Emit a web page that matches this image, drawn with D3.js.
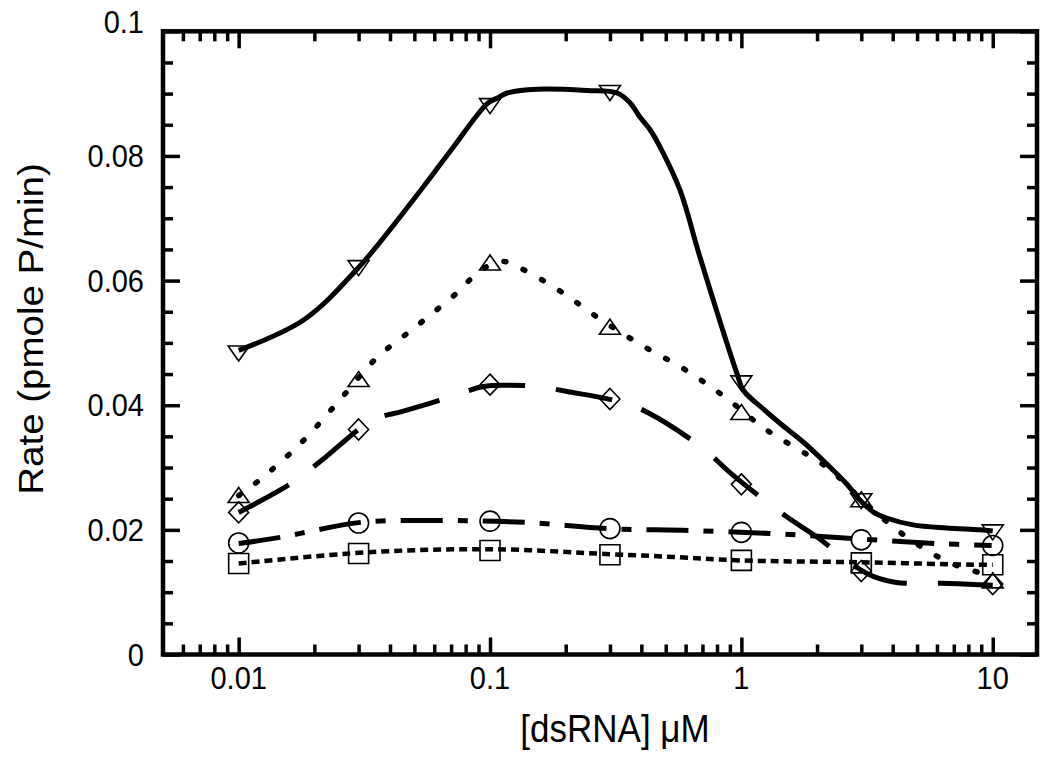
<!DOCTYPE html>
<html><head><meta charset="utf-8">
<script src="https://cdn.jsdelivr.net/npm/d3@7"></script>
<style>
body{margin:0;background:#fff}
text{font-family:"Liberation Sans",Arial,Helvetica,sans-serif;fill:#000}
</style>
</head><body>
<svg id="c" width="1050" height="765"></svg>
<script>
// ---------- data ----------
const concentrations = [0.01, 0.03, 0.1, 0.3, 1, 3, 10];
const rateDownTri = [0.0487, 0.0624, 0.0884, 0.0905, 0.0439, 0.0250, 0.0200];
const rateUpTri   = [0.0252, 0.0438, 0.0625, 0.0522, 0.0385, 0.0245, 0.0115];
const rateDiamond = [0.0228, 0.0361, 0.0433, 0.0410, 0.0273, 0.0134, 0.0113];
const rateCircle  = [0.0179, 0.0211, 0.0214, 0.0202, 0.0196, 0.0184, 0.0175];
const rateSquare  = [0.0146, 0.0162, 0.0167, 0.0160, 0.0151, 0.0147, 0.0144];

// fitted curves
const fitDownX = [0.01, 0.018, 0.03, 0.053, 0.0714, 0.0975, 0.107, 0.117, 0.154, 0.244, 0.3205, 0.361, 0.3955, 0.4334, 0.475, 0.570, 0.685, 0.96, 1.018, 1.222, 1.424, 1.762, 2.182, 2.62, 2.96, 3.343, 3.778, 4.819, 6.542, 8.872, 10];
const fitDownY = [0.0488, 0.0536, 0.0621, 0.0745, 0.0814, 0.0884, 0.0893, 0.0901, 0.0907, 0.0905, 0.0901, 0.0885, 0.0862, 0.0842, 0.0814, 0.0745, 0.0637, 0.0451, 0.0424, 0.0394, 0.0371, 0.0341, 0.0306, 0.0274, 0.0248, 0.0229, 0.0219, 0.0208, 0.0203, 0.0200, 0.0198];
const fitUpX = [0.01, 0.01246, 0.01796, 0.0252, 0.0350, 0.0514, 0.0742, 0.0890, 0.1099, 0.1319, 0.1902, 0.2744, 0.4027, 0.597, 0.8606, 1.252, 1.822, 2.249, 3.184, 4.677, 6.866, 9.72];
const fitUpY = [0.0255, 0.0284, 0.0342, 0.0408, 0.0474, 0.0528, 0.0581, 0.0612, 0.0631, 0.0620, 0.0583, 0.0538, 0.0496, 0.0457, 0.0413, 0.0361, 0.0321, 0.0297, 0.0239, 0.0185, 0.0146, 0.0127];
const fitDiamondX = [0.01, 0.01638, 0.02117, 0.03406, 0.04482, 0.06957, 0.094, 0.1204, 0.1542, 0.2028, 0.3323, 0.4255, 0.6976, 0.9178, 1.490, 1.961, 3.155, 4.076, 6.742, 10];
const fitDiamondY = [0.0228, 0.0276, 0.0310, 0.0376, 0.0390, 0.0413, 0.0430, 0.0432, 0.0430, 0.0422, 0.0405, 0.0388, 0.0332, 0.0289, 0.0223, 0.0191, 0.0130, 0.0116, 0.0114, 0.0111];
const fitCircleX = [0.01, 0.01468, 0.01846, 0.03052, 0.06644, 0.1381, 0.2951, 0.6249, 1.335, 2.776, 6.04, 9.9];
const fitCircleY = [0.0178, 0.0188, 0.0196, 0.0212, 0.0215, 0.0212, 0.0202, 0.0199, 0.0194, 0.0186, 0.0178, 0.0175];
const fitSquareX = [0.01, 0.03255, 0.1003, 0.3006, 0.570, 0.987, 2.96, 8.87, 10];
const fitSquareY = [0.0146, 0.0164, 0.0169, 0.0161, 0.0156, 0.0151, 0.0148, 0.0144, 0.0144];

// ticks
const xMajorTicks = [0.01, 0.1, 1, 10];
const xTickLabels = ["0.01", "0.1", "1", "10"];
const xMinorTicks = [0.006,0.007,0.008,0.009,0.02,0.03,0.04,0.05,0.06,0.07,0.08,0.09,0.2,0.3,0.4,0.5,0.6,0.7,0.8,0.9,2,3,4,5,6,7,8,9];
const yMajorTicks = [0, 0.02, 0.04, 0.06, 0.08, 0.1];
const yTickLabels = ["0", "0.02", "0.04", "0.06", "0.08", "0.1"];
const yMinorTicks = [0.005,0.01,0.015,0.025,0.03,0.035,0.045,0.05,0.055,0.065,0.07,0.075,0.085,0.09,0.095];
const xTitle = "[dsRNA] \u03bcM";
const yTitle = "Rate (pmole P/min)";

// ---------- layout ----------
const L = 163, R = 1037, T = 31.3, B = 654.5;
const svg = d3.select("#c");
svg.append("rect").attr("width",1050).attr("height",765).attr("fill","#fff");

const x = d3.scaleLog().domain([0.005, 15]).range([L, R]);
const y = d3.scaleLinear().domain([0, 0.1]).range([B, T]);

const MAJ = 17, MIN = 10, TW = 3.5;
function styleAxis(g){
  g.select(".domain").remove();
  g.selectAll(".tick line").attr("stroke","#000").attr("stroke-width",TW);
  g.selectAll(".tick text").remove();
}
// bottom & top
svg.append("g").attr("transform",`translate(0,${B})`)
  .call(d3.axisBottom(x).tickValues(xMajorTicks).tickSize(-MAJ).tickFormat("")).call(styleAxis);
svg.append("g").attr("transform",`translate(0,${B})`)
  .call(d3.axisBottom(x).tickValues(xMinorTicks).tickSize(-MIN).tickFormat("")).call(styleAxis);
svg.append("g").attr("transform",`translate(0,${T})`)
  .call(d3.axisTop(x).tickValues(xMajorTicks).tickSize(-MAJ).tickFormat("")).call(styleAxis);
svg.append("g").attr("transform",`translate(0,${T})`)
  .call(d3.axisTop(x).tickValues(xMinorTicks).tickSize(-MIN).tickFormat("")).call(styleAxis);
// left & right
svg.append("g").attr("transform",`translate(${L},0)`)
  .call(d3.axisLeft(y).tickValues(yMajorTicks).tickSize(-MAJ).tickFormat("")).call(styleAxis);
svg.append("g").attr("transform",`translate(${L},0)`)
  .call(d3.axisLeft(y).tickValues(yMinorTicks).tickSize(-MIN).tickFormat("")).call(styleAxis);
svg.append("g").attr("transform",`translate(${R},0)`)
  .call(d3.axisRight(y).tickValues(yMajorTicks).tickSize(-MAJ).tickFormat("")).call(styleAxis);
svg.append("g").attr("transform",`translate(${R},0)`)
  .call(d3.axisRight(y).tickValues(yMinorTicks).tickSize(-MIN).tickFormat("")).call(styleAxis);

// frame
svg.append("rect").attr("x",L).attr("y",T).attr("width",R-L).attr("height",B-T)
  .attr("fill","none").attr("stroke","#000").attr("stroke-width",4.5);

// tick labels
const FS = 29;
svg.append("g").selectAll("text").data(xMajorTicks).join("text")
  .attr("transform",(d)=>`translate(${x(d)},689) scale(1,1.06)`)
  .attr("text-anchor","middle").attr("font-size",FS)
  .text((d,i)=>xTickLabels[i]);
svg.append("g").selectAll("text").data(yMajorTicks).join("text")
  .attr("transform",(d,i)=>`translate(144,${y(d)+11-(i===yMajorTicks.length-1?9:0)}) scale(1,1.06)`)
  .attr("text-anchor","end").attr("font-size",FS)
  .text((d,i)=>yTickLabels[i]);

// axis titles
svg.append("text").attr("transform","translate(615,742) scale(1,1.1)")
  .attr("text-anchor","middle").attr("font-size",35).text(xTitle);
svg.append("text").attr("transform","translate(43,329) scale(1,1.1) rotate(-90)")
  .attr("text-anchor","middle").attr("font-size",35).text(yTitle);

// ---------- markers ----------
const plot = svg.append("g");
function pts(xs, ys){ return xs.map((v,i)=>[v, ys[i]]); }
const shapes = {
  down: "M-10.5,-5L10.5,-5L0,10Z",
  up: "M0,-10L10.5,5L-10.5,5Z",
  diamond: "M0,-10.5L10,0L0,10.5L-10,0Z",
  square: "M-10,-10H10V10H-10Z"
};
function markers(ys, kind){
  const g = plot.append("g");
  const data = pts(concentrations, ys);
  if (kind === "circle") {
    g.selectAll("circle").data(data).join("circle")
      .attr("cx",d=>x(d[0])).attr("cy",d=>y(d[1])).attr("r",10)
      .attr("fill","none").attr("stroke","#000").attr("stroke-width",1.6);
  } else {
    g.selectAll("path").data(data).join("path")
      .attr("transform",d=>`translate(${x(d[0])},${y(d[1])})`)
      .attr("d",shapes[kind])
      .attr("fill","none").attr("stroke","#000").attr("stroke-width",1.6);
  }
}
markers(rateSquare,"square");
markers(rateCircle,"circle");
markers(rateDiamond,"diamond");
markers(rateUpTri,"up");
markers(rateDownTri,"down");

// ---------- fitted curves ----------
const line = d3.line().x(d=>x(d[0])).y(d=>y(d[1])).curve(d3.curveCatmullRom.alpha(0.5));
function curve(xs, ys, width, dash, cap){
  plot.append("path").datum(pts(xs, ys)).attr("d", line)
    .attr("fill","none").attr("stroke","#000").attr("stroke-width",width)
    .attr("stroke-dasharray",dash).attr("stroke-linecap",cap||"butt");
}
curve(fitSquareX, fitSquareY, 4.5, "8 5");
curve(fitCircleX, fitCircleY, 5, "42 15 10 15");
curve(fitDiamondX, fitDiamondY, 5, "57 31");
curve(fitUpX, fitUpY, 5.5, "2 19", "round");
curve(fitDownX, fitDownY, 5, null);
</script>
</body></html>
